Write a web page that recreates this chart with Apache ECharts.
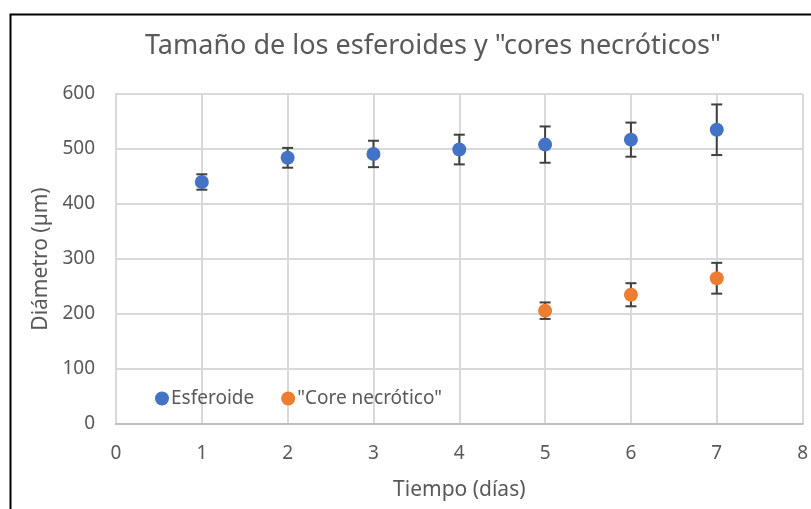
<!DOCTYPE html>
<html>
<head>
<meta charset="utf-8">
<script src="https://cdn.jsdelivr.net/npm/echarts@6/dist/echarts.min.js"></script>
<style>
  html, body { margin: 0; padding: 0; background: #fff; }
  #main { width: 811px; height: 509px; }
</style>
</head>
<body>
<div id="main"></div>
<script>
// datos
var dias = [1, 2, 3, 4, 5, 6, 7];
var esferoideMedia = [440, 484, 491, 499, 508, 517, 535];
var esferoideError = [14, 18, 24, 27, 33, 31, 46];
var diasCore = [5, 6, 7];
var coreMedia = [206, 235, 265];
var coreError = [15, 21, 28];
var xTicks = [0, 1, 2, 3, 4, 5, 6, 7, 8];
var yTicks = [0, 100, 200, 300, 400, 500, 600];

var textColor = '#595959';
var fontFam = 'Noto Sans';

function puntos(xs, ys) {
    var out = [];
    for (var i = 0; i < xs.length; i++) out.push([xs[i], ys[i]]);
    return out;
}
function barras(xs, ys, err) {
    var out = [];
    for (var i = 0; i < xs.length; i++) out.push([xs[i], ys[i] - err[i], ys[i] + err[i]]);
    return out;
}
// dibuja la barra de error con sus topes
function errorBar(params, api) {
    var x = api.value(0);
    var top = api.coord([x, api.value(2)]);
    var bot = api.coord([x, api.value(1)]);
    var w = 5.5;
    var st = { stroke: '#404040', lineWidth: 2 };
    return {
        type: 'group',
        children: [
            { type: 'line', shape: { x1: top[0], y1: top[1], x2: bot[0], y2: bot[1] }, style: st },
            { type: 'line', shape: { x1: top[0] - w, y1: top[1], x2: top[0] + w, y2: top[1] }, style: st },
            { type: 'line', shape: { x1: bot[0] - w, y1: bot[1], x2: bot[0] + w, y2: bot[1] }, style: st }
        ]
    };
}

var myChart = echarts.init(document.getElementById('main'));
var option = {
    animation: false,
    backgroundColor: '#fff',
    title: {
        text: 'Tamaño de los esferoides y "cores necróticos"',
        left: 428,
        textAlign: 'center',
        top: 28,
        textStyle: { color: textColor, fontFamily: fontFam, fontWeight: 'normal', fontSize: 27 }
    },
    graphic: [{
        type: 'rect',
        left: 8,
        top: 12,
        shape: { width: 900, height: 600 },
        style: { fill: 'none', stroke: '#000', lineWidth: 2 },
        silent: true
    }],
    legend: {
        left: 150,
        top: 384,
        icon: 'circle',
        itemWidth: 14,
        itemHeight: 14,
        itemGap: 27,
        data: ['Esferoide', '"Core necrótico"'],
        textStyle: { color: textColor, fontFamily: fontFam, fontSize: 19, padding: [0, 0, 0, -3] }
    },
    grid: { left: 116, right: 8, top: 94, bottom: 85 },
    xAxis: {
        type: 'value',
        min: 0,
        max: 8,
        interval: 1,
        name: 'Tiempo (días)',
        nameLocation: 'middle',
        nameGap: 56,
        nameTextStyle: { color: textColor, fontFamily: fontFam, fontSize: 21 },
        axisLine: { lineStyle: { color: '#bfbfbf', width: 2 } },
        axisTick: { show: false },
        axisLabel: {
            color: textColor, fontFamily: fontFam, fontSize: 19, margin: 20,
            formatter: function (v) { return xTicks.indexOf(v) >= 0 ? String(v) : ''; }
        },
        splitLine: { show: true, lineStyle: { color: '#d9d9d9', width: 2 } }
    },
    yAxis: {
        type: 'value',
        min: 0,
        max: 600,
        interval: 100,
        name: 'Diámetro (µm)',
        nameLocation: 'middle',
        nameGap: 63,
        nameTextStyle: { color: textColor, fontFamily: fontFam, fontSize: 21 },
        axisLine: { show: true, lineStyle: { color: '#d9d9d9', width: 2 } },
        axisTick: { show: false },
        axisLabel: {
            color: textColor, fontFamily: fontFam, fontSize: 19, margin: 21,
            formatter: function (v) { return yTicks.indexOf(v) >= 0 ? String(v) : ''; }
        },
        splitLine: { show: true, lineStyle: { color: '#d9d9d9', width: 2 } }
    },
    series: [{
        name: 'Esferoide',
        type: 'scatter',
        symbol: 'circle',
        symbolSize: 14,
        itemStyle: { color: '#4472C4', opacity: 1 },
        z: 5,
        data: puntos(dias, esferoideMedia)
    }, {
        name: '"Core necrótico"',
        type: 'scatter',
        symbol: 'circle',
        symbolSize: 14,
        itemStyle: { color: '#ED7D31', opacity: 1 },
        z: 5,
        data: puntos(diasCore, coreMedia)
    }, {
        type: 'custom',
        renderItem: errorBar,
        z: 3,
        silent: true,
        data: barras(dias, esferoideMedia, esferoideError)
    }, {
        type: 'custom',
        renderItem: errorBar,
        z: 3,
        silent: true,
        data: barras(diasCore, coreMedia, coreError)
    }]
};
myChart.setOption(option);
</script>
</body>
</html>
